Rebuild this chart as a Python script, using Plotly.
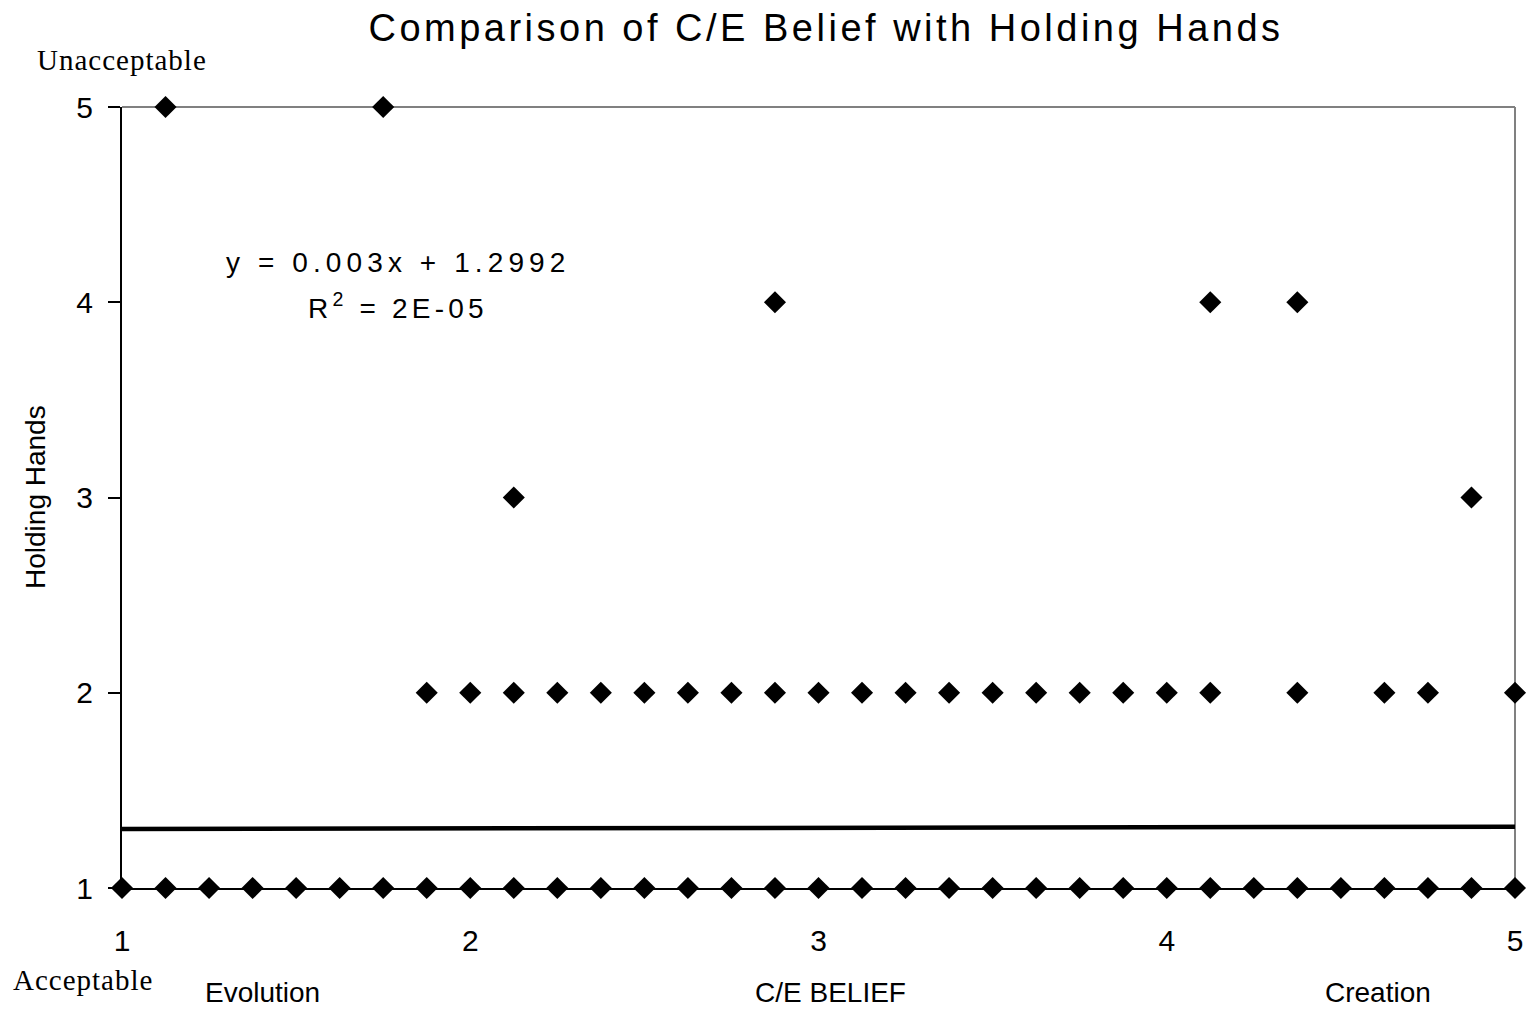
import plotly.graph_objects as go

# ---- data ----
x_row1 = [1, 1.125, 1.25, 1.375, 1.5, 1.625, 1.75, 1.875, 2, 2.125, 2.25, 2.375, 2.5, 2.625,
          2.75, 2.875, 3, 3.125, 3.25, 3.375, 3.5, 3.625, 3.75, 3.875, 4, 4.125, 4.25, 4.375,
          4.5, 4.625, 4.75, 4.875, 5]
x_row2 = [1.875, 2, 2.125, 2.25, 2.375, 2.5, 2.625, 2.75, 2.875, 3, 3.125, 3.25, 3.375, 3.5,
          3.625, 3.75, 3.875, 4, 4.125, 4.375, 4.625, 4.75, 5]
x_row3 = [2.125, 4.875]
x_row4 = [2.875, 4.125, 4.375]
x_row5 = [1.125, 1.75]

belief = x_row1 + x_row2 + x_row3 + x_row4 + x_row5
holding = [1] * len(x_row1) + [2] * len(x_row2) + [3] * len(x_row3) + [4] * len(x_row4) + [5] * len(x_row5)

trend_slope = 0.003
trend_intercept = 1.2992
trend_x = [1, 5]
trend_y = [trend_slope * v + trend_intercept for v in trend_x]

x_ticks = [1, 2, 3, 4, 5]
y_ticks = [1, 2, 3, 4, 5]

AR = "Arial, Liberation Sans, sans-serif"
SERIF = "Times New Roman, Liberation Serif, serif"

# figure fills the page (body margin removed by post_script)
OFF = 0
W, H = 1537, 1009
PL, PR, PT, PB = 122, 1515, 107, 888  # plot area in page pixels
ML, MR, MT, MB = PL - OFF, W - (PR - OFF), PT - OFF, H - (PB - OFF)

fig = go.Figure()
fig.add_trace(go.Scatter(x=trend_x, y=trend_y, mode="lines",
                         line=dict(color="black", width=4.5), hoverinfo="skip", showlegend=False))
fig.add_trace(go.Scatter(x=belief, y=holding, mode="markers",
                         marker=dict(symbol="diamond", size=17, color="black", line=dict(width=0)),
                         cliponaxis=False, showlegend=False))

# gray top/right frame
fig.add_shape(type="line", xref="paper", yref="paper", x0=0, x1=1, y0=1, y1=1,
              line=dict(color="#808080", width=2), layer="below")
fig.add_shape(type="line", xref="paper", yref="paper", x0=1, x1=1, y0=0, y1=1,
              line=dict(color="#808080", width=2), layer="below")

fig.update_layout(
    width=W, height=H,
    margin=dict(l=ML, r=MR, t=MT, b=MB, autoexpand=False),
    paper_bgcolor="white", plot_bgcolor="white",
    font=dict(family=AR, color="black"),
    title=dict(text='<span style="letter-spacing:3.5px">Comparison of C/E Belief with Holding Hands</span>',
               x=(826 - OFF) / W, xanchor="center", y=1 - (28 - OFF) / H, yanchor="middle",
               font=dict(family=AR, size=38, color="black")),
    xaxis=dict(range=[1, 5], tickmode="array", tickvals=x_ticks, ticktext=[str(v) for v in x_ticks],
               showgrid=False, zeroline=False, showline=True, linecolor="black", linewidth=2,
               automargin=False,
               ticks="", ticklabelstandoff=25, tickfont=dict(family=AR, size=30, color="black")),
    yaxis=dict(range=[1, 5], tickmode="array", tickvals=y_ticks, ticktext=[str(v) for v in y_ticks],
               showgrid=False, zeroline=False, showline=True, linecolor="black", linewidth=2,
               automargin=False,
               ticks="outside", ticklen=12, tickwidth=2, tickcolor="black", ticklabelstandoff=9,
               tickfont=dict(family=AR, size=30, color="black")),
)

# annotation positions in page pixels
ann = [
    dict(text="Holding Hands", x=35, y=497, textangle=-90, size=28, family=AR),
    dict(text="Evolution", x=262, y=992, size=28, family=AR),
    dict(text="C/E BELIEF", x=830, y=992, size=28, family=AR),
    dict(text="Creation", x=1378, y=992, size=28, family=AR),
    dict(text='<span style="letter-spacing:1px">Unacceptable</span>', x=122, y=60, size=29, family=SERIF),
    dict(text='<span style="letter-spacing:1px">Acceptable</span>', x=83, y=980, size=29, family=SERIF),
    dict(text='<span style="letter-spacing:5.1px">y = 0.003x + 1.2992</span>', x=398, y=262, size=28, family=AR),
    dict(text='<span style="letter-spacing:4.2px">R<sup>2</sup> = 2E-05</span>', x=398, y=306, size=28, family=AR),
]
for a in ann:
    fx = a["x"] - OFF
    fy = a["y"] - OFF
    fig.add_annotation(text=a["text"], xref="paper", yref="paper",
                       x=(fx - ML) / (W - ML - MR), y=(H - MB - fy) / (H - MT - MB),
                       xanchor="center", yanchor="middle", showarrow=False,
                       textangle=a.get("textangle", 0),
                       font=dict(family=a["family"], size=a["size"], color="black"))

fig.write_html("out.html", config={"displayModeBar": False},
               post_script="document.body.style.margin='0';document.body.style.overflow='hidden';")
